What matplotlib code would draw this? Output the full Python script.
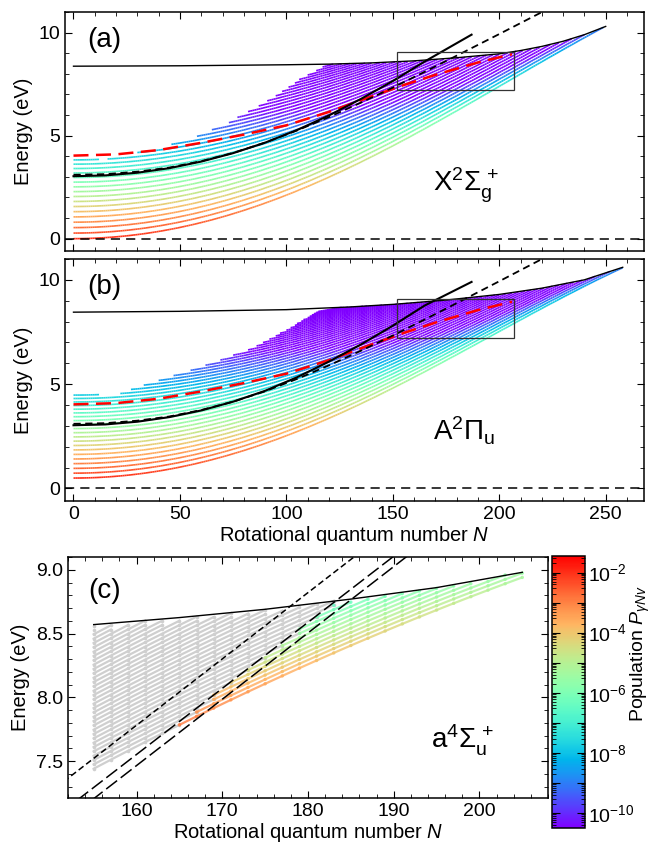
import numpy as np
import matplotlib.pyplot as plt
from matplotlib.collections import LineCollection
from matplotlib.colors import LogNorm
from matplotlib.patches import Rectangle
from matplotlib.ticker import MultipleLocator, LogLocator, FixedLocator, FixedFormatter

plt.rcParams.update({
    "font.family": ["Liberation Sans", "DejaVu Sans"],
    "mathtext.fontset": "custom",
    "mathtext.rm": "Liberation Sans",
    "mathtext.it": "Liberation Sans:italic",
    "mathtext.bf": "Liberation Sans:bold",
    "font.size": 14,
    "axes.linewidth": 1.1,
    "xtick.direction": "in",
    "ytick.direction": "in",
    "xtick.top": True,
    "ytick.right": True,
    "xtick.major.size": 5,
    "ytick.major.size": 5,
    "xtick.minor.size": 3,
    "ytick.minor.size": 3,
    "xtick.labelsize": 14,
    "ytick.labelsize": 14,
})

N = np.arange(0, 271)

# ---- X 2Sigma_g+ ----
x_term = [0.0, 0.2725, 0.0021]          # T0, we, wexe (eV)
x_vmax = 50
x_rot = [2.2e-4, -8.8e-10]              # v=0 rotational energy: a N^2 + b N^4
x_rot_drop = 0.013                      # fractional drop of rotational scale per v
x_pop = [-2.0, -1.45, -0.7, -0.03]      # log10 P = p0 + p1*G + p2*Erot + p3*G*Erot0^2
x_barrier_N = [0, 50, 100, 120, 140, 160, 180, 200, 210, 220, 230, 240, 250]
x_barrier_E = [8.37, 8.39, 8.44, 8.47, 8.53, 8.63, 8.78, 8.97, 9.13, 9.33, 9.58, 9.9, 10.3]
x_edge_N = [0, 15, 40, 56, 72, 91, 107, 120]
x_edge_E = [3.85, 3.85, 4.4, 4.9, 5.6, 6.7, 7.8, 8.5]

# ---- A 2Pi_u ----
a_term = [0.5, 0.236, 0.00186]
a_vmax = 46
a_rot = [2.12e-4, -9.1e-10]
a_rot_drop = 0.013
a_pop = [-2.0, -1.45, -0.7, -0.03]
a_barrier_N = [0, 50, 100, 130, 151, 175, 200, 220, 240, 258]
a_barrier_E = [8.45, 8.49, 8.57, 8.70, 8.83, 9.03, 9.30, 9.60, 10.0, 10.6]
a_edge_N = [0, 20, 28, 59, 82, 98, 114, 118]
a_edge_E = [4.5, 4.5, 4.8, 5.8, 6.65, 7.5, 8.45, 8.6]

# critical curves
red_N = [0, 20, 40, 60, 80, 100, 120, 140, 155, 170, 190, 206]
red_E = [4.03, 4.09, 4.3, 4.65, 5.05, 5.5, 6.15, 6.9, 7.45, 7.95, 8.55, 8.95]
x_solid_N = [0, 15, 30, 45, 60, 75, 90, 105, 120, 135, 150, 165, 187]
x_solid_E = [3.03, 3.07, 3.2, 3.42, 3.74, 4.15, 4.66, 5.27, 5.98, 6.78, 7.65, 8.6, 9.9]
a_solid_E = [3.03, 3.07, 3.2, 3.42, 3.74, 4.16, 4.68, 5.33, 6.08, 6.9, 7.8, 8.77, 9.9]
dash_N = [0, 15, 30, 45, 60, 75, 90, 105, 120, 135, 150, 165, 180, 200, 222]
dash_E = [3.1, 3.13, 3.25, 3.45, 3.76, 4.16, 4.66, 5.25, 5.9, 6.6, 7.33, 8.1, 8.88, 9.93, 11.1]

# ---- a 4Sigma_u+ (zoom) ----
q_N = np.arange(155, 206, 2)
q_E0 = 7.44              # lowest level at N = 155
q_spacing = 0.034
q_slope = [0.0355, -0.00011]
q_levels = 34
q_barrier_N = [155, 165, 175, 185, 195, 205]
q_barrier_E = [8.57, 8.625, 8.69, 8.77, 8.86, 8.98]
q_pop = [-2.9, -0.22, -0.06]   # log10 P = p0 + p1*i + p2*(N-165)
# straight boundary lines: (N0, E0, slope)
q_short = [152.0, 7.365, 0.052]
q_long1 = [153.4, 7.21, 0.0518]
q_long2 = [155.1, 7.21, 0.052]

cmap = plt.get_cmap("rainbow")
norm = LogNorm(vmin=10 ** -10.5, vmax=10 ** -1.45)


def rovib(term, vmax, rot, drop, pop, bar_N, bar_E, edge_N, edge_E):
    t0, we, wexe = term
    a, b = rot
    erot0 = a * N ** 2 + b * N ** 4
    bar = np.where(N <= bar_N[-1], np.interp(N, bar_N, bar_E), -np.inf)
    edge = np.where(N <= edge_N[-1], np.interp(N, edge_N, edge_E), np.inf)
    segs, logp = [], []
    for v in range(vmax + 1):
        g = we * v - wexe * v ** 2
        if t0 + g > bar_E[0]:
            break
        e = t0 + g + (1 - drop * v) * erot0
        ok = (e <= bar) & (e <= edge)
        for i in range(len(N) - 1):
            if ok[i] and ok[i + 1]:
                segs.append([(N[i], e[i]), (N[i + 1], e[i + 1])])
                logp.append(pop[0] + pop[1] * g + pop[2] * (e[i] - t0 - g)
                            + pop[3] * g * erot0[i] ** 2)
    return segs, np.array(logp)


fig = plt.figure(figsize=(6.57, 8.46), dpi=100)
ax_a = fig.add_axes([0.0989, 0.7033, 0.8813, 0.2825])
ax_b = fig.add_axes([0.0989, 0.4078, 0.8813, 0.2861])
ax_c = fig.add_axes([0.1035, 0.0567, 0.7306, 0.2849])
cax = fig.add_axes([0.8402, 0.0213, 0.0502, 0.3215])

panels = [
    (ax_a, x_term, x_vmax, x_rot, x_rot_drop, x_pop, x_barrier_N, x_barrier_E, x_edge_N,
     x_edge_E, x_solid_E, "(a)", r"$\mathrm{X^2\Sigma_g^{\,+}}$"),
    (ax_b, a_term, a_vmax, a_rot, a_rot_drop, a_pop, a_barrier_N, a_barrier_E, a_edge_N,
     a_edge_E, a_solid_E, "(b)", r"$\mathrm{A^2\Pi_u}$"),
]
for ax, term, vmax, rot, drop, pop, bN, bE, eN, eE, solid_E, tag, state in panels:
    segs, logp = rovib(term, vmax, rot, drop, pop, bN, bE, eN, eE)
    lc = LineCollection(segs, colors=cmap(norm(10 ** logp)), linewidths=1.2)
    ax.add_collection(lc)
    ax.plot(bN, bE, color="black", lw=1.0, zorder=4)
    ax.axhline(0, color="black", lw=1.1, ls=(0, (6, 4)))
    ax.plot(red_N, red_E, color="red", lw=1.8, ls=(0, (6, 3)), zorder=5)
    ax.plot(x_solid_N, solid_E, color="black", lw=1.5, zorder=5)
    ax.plot(dash_N, dash_E, color="black", lw=1.3, ls=(0, (4, 2.5)), zorder=5)
    ax.add_patch(Rectangle((152, 7.2), 55, 1.88, fill=False, ec="#333333", lw=0.9, zorder=6))
    ax.set_xlim(-4, 268)
    ax.set_ylim(-0.6, 11)
    ax.xaxis.set_major_locator(MultipleLocator(50))
    ax.xaxis.set_minor_locator(MultipleLocator(10))
    ax.yaxis.set_major_locator(MultipleLocator(5))
    ax.yaxis.set_minor_locator(MultipleLocator(1))
    ax.tick_params(which="both", top=True, right=True)
    ax.set_ylabel("Energy (eV)", fontsize=14.5, labelpad=4)
    ax.text(0.038, 0.883, tag, transform=ax.transAxes, fontsize=20, va="center", ha="left")
    ax.text(169, 2.3, state, fontsize=20, ha="left", va="baseline")

ax_a.tick_params(labelbottom=False)
ax_b.set_xlabel(r"Rotational quantum number $N$", fontsize=14.5, labelpad=1)

# zoomed a 4Sigma_u+ levels
bar_c = np.interp(q_N, q_barrier_N, q_barrier_E)
long1 = q_long1[1] + q_long1[2] * (q_N - q_long1[0])
x = q_N - q_N[0]
for i in range(q_levels):
    e = q_E0 + q_spacing * i + q_slope[0] * x + q_slope[1] * x ** 2
    keep = e <= bar_c + 0.005
    if keep.sum() < 1:
        continue
    n_i, e_i, l_i = q_N[keep], e[keep], long1[keep]
    hot = e_i <= l_i
    if hot.any():
        first = np.argmax(hot)
        hot[first:] = True
    else:
        first = len(n_i)
    ax_c.plot(n_i[:first + 1], e_i[:first + 1], color="#cfcfcf", lw=1.6,
              marker="o", ms=2.6, mec="none", zorder=2)
    if hot.any():
        nh, eh = n_i[first:], e_i[first:]
        lp = q_pop[0] + q_pop[1] * i + q_pop[2] * (nh - 165)
        cols = cmap(norm(10 ** lp))
        if len(nh) > 1:
            segs = [[(nh[k], eh[k]), (nh[k + 1], eh[k + 1])] for k in range(len(nh) - 1)]
            ax_c.add_collection(LineCollection(segs, colors=cols[:-1], linewidths=1.6,
                                               alpha=0.8, zorder=3))
        ax_c.scatter(nh, eh, c=cols, s=6, edgecolors="none", alpha=0.85, zorder=3)

ax_c.plot(q_barrier_N, q_barrier_E, color="black", lw=1.0, zorder=4)
lineN = np.array([148.0, 196.0])
for (n0, e0, s), ls in [(q_short, (0, (4, 2.2))), (q_long1, (0, (9, 3))), (q_long2, (0, (9, 3)))]:
    ax_c.plot(lineN, e0 + s * (lineN - n0), color="black", lw=1.1, ls=ls, zorder=5)

ax_c.set_xlim(152, 208)
ax_c.set_ylim(7.21, 9.10)
ax_c.xaxis.set_major_locator(MultipleLocator(10))
ax_c.xaxis.set_minor_locator(MultipleLocator(2))
ax_c.yaxis.set_major_locator(MultipleLocator(0.5))
ax_c.yaxis.set_minor_locator(MultipleLocator(0.1))
ax_c.yaxis.set_major_formatter(plt.FormatStrFormatter("%.1f"))
ax_c.tick_params(which="both", top=True, right=True)
ax_c.set_ylabel("Energy (eV)", fontsize=14.5, labelpad=4)
ax_c.set_xlabel(r"Rotational quantum number $N$", fontsize=14.5, labelpad=1)
ax_c.text(0.042, 0.859, "(c)", transform=ax_c.transAxes, fontsize=20, va="center", ha="left")
ax_c.text(194.4, 7.6, r"$\mathrm{a^4\Sigma_u^{\,+}}$", fontsize=20, ha="left", va="baseline")

# colorbar
sm = plt.cm.ScalarMappable(norm=norm, cmap=cmap)
cb = fig.colorbar(sm, cax=cax)
cb.outline.set_linewidth(1.1)
decades = [10.0 ** k for k in range(-10, -1)]
cb.ax.yaxis.set_major_locator(FixedLocator(decades))
cb.ax.yaxis.set_major_formatter(FixedFormatter(
    [r"$10^{%d}$" % k if k % 2 == 0 else "" for k in range(-10, -1)]))
cb.ax.yaxis.set_minor_locator(LogLocator(base=10, subs=np.arange(2, 10), numticks=20))
cb.ax.tick_params(which="both", direction="in", left=True, right=True, labelsize=14, pad=2)
cb.ax.tick_params(which="major", length=6)
cb.ax.tick_params(which="minor", length=3)
cb.ax.text(2.68, 0.64, r"Population $P_{\gamma N v}$", transform=cb.ax.transAxes,
           rotation=90, fontsize=14, ha="center", va="center")

fig.savefig("out.png", dpi=100)
